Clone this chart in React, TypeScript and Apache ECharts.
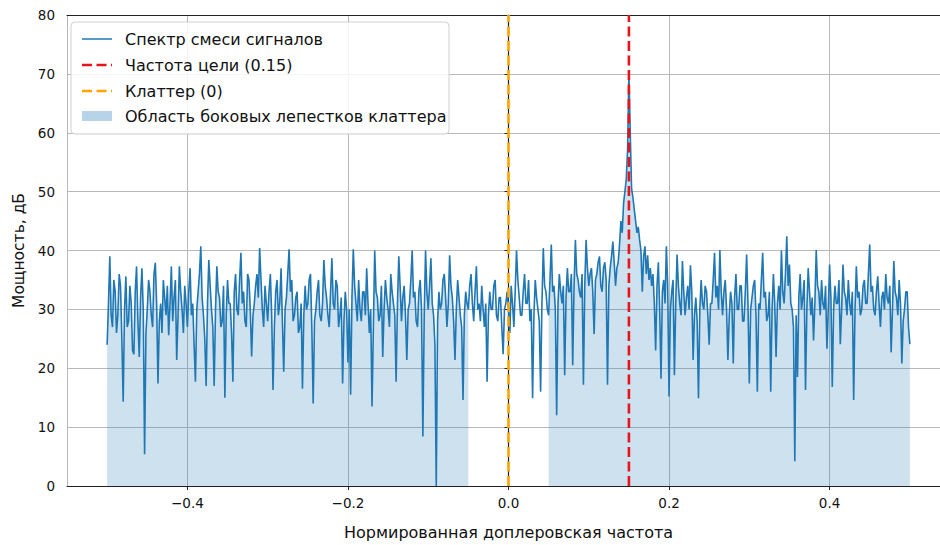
import React, { useEffect, useRef } from "react";
import * as echarts from "echarts";

// Spectrum power (dB), 601 bins from -0.5 to 0.5
const spectrumPart1 = [
  24, 31, 39, 29, 27, 35, 33, 26, 29, 36, 34, 25, 14.3, 30, 35.6, 27, 28, 34, 31, 23,
  22.4, 33, 37.3, 28, 21.9, 32, 37, 30, 5.4, 26, 30, 35, 33, 29, 27, 36, 37.9, 31, 17.4, 28,
  31, 26, 35, 32, 29, 34, 25.6, 31, 37.3, 28, 32, 35, 21.4, 29, 37.3, 33, 30, 26, 34, 31,
  27, 33, 37, 29, 31, 24, 17.7, 30, 33, 36, 40.7, 32, 29, 25, 17, 31, 38.4, 34, 30, 27,
  17, 30, 37.3, 33, 32, 27, 28, 34, 15, 29, 35, 31, 31, 26, 17.7, 33, 36, 30, 29, 35,
  39.6, 31, 33, 28, 27, 36, 35, 30, 22, 29, 31, 34, 36, 32, 40.4, 35, 30, 27, 34, 31,
  28, 33, 36, 29, 16.3, 27, 33, 35, 29, 31, 37, 28, 19.4, 30, 32, 36, 40.2, 33, 35, 28,
  29, 32, 33, 26, 27, 31, 16.5, 29, 34, 30, 31, 35, 36, 27, 14, 28, 30, 33, 35, 29,
];
const spectrumPart2 = [
  28, 31, 38.4, 34, 32, 29, 27, 33, 38.7, 31, 30, 35, 34, 27, 29, 32, 17.4, 28, 33, 30,
  21, 30, 15.5, 32, 40.2, 34, 31, 28, 35, 30, 28, 33, 33, 29, 37, 31, 26, 30, 13.5, 27,
  40, 33, 32, 28, 29, 34, 21.9, 30, 35, 32, 30, 27, 36, 33, 31, 29, 17.7, 31, 39, 34,
  28, 32, 34, 29, 21.4, 30, 31, 35, 40, 32, 33, 28, 27, 33, 35, 30, 8.4, 29, 40, 33,
  30, 34, 38.7, 31, 29, 24, 0, 28, 33, 30, 31, 35, 36, 32, 27, 31, 39.2, 34, 32, 28,
  21.4, 30, 35, 32, 29, 27, 14.6, 29, 33, 31, 30, 34, 36, 31, 28, 33, 37.3, 30, 31, 28,
  34, 30, 27, 31, 17.7, 29, 33, 30, 30, 34, 35, 29, 28, 32, 32, 27, 22.4, 30, 31, 33,
];
const spectrumPart3 = [
  30, 26, 34, 31, 27, 33, 40, 35, 32, 29, 29, 33, 36, 31, 31, 35, 28, 30, 14.9, 29,
  35, 32, 30, 28, 16, 31, 40.4, 34, 33, 30, 29, 35, 41, 33, 34, 30, 12, 31, 36, 33,
  31, 34, 18.8, 32, 37, 33, 33, 36, 20.5, 34, 41.8, 36, 35, 33, 32, 36, 17.2, 34, 41.8, 37,
  34, 36, 37, 33, 25.8, 35, 36, 38, 39, 34, 33, 37, 38, 35, 17.2, 34, 37, 39, 41.5, 38,
  34, 37, 38, 41, 45, 43, 48, 50, 52, 57, 70, 60, 50.5, 49, 47, 45, 43, 44, 41.8, 40,
  33, 39, 40.7, 36, 39.2, 35, 37, 34, 36, 31, 23, 34, 38, 30, 18.2, 33, 35, 31, 40.7, 34,
  15.2, 30, 33, 35, 18.8, 31, 39.3, 34, 31, 29, 38.2, 33, 29, 32, 34, 30, 37.5, 33, 21.4, 29,
  32, 28, 14.9, 30, 35, 31, 30, 34, 33, 29, 24, 31, 31, 35, 39.6, 32, 34, 30, 40.1, 33,
];
const spectrumPart4 = [
  29, 33, 35, 30, 21.4, 29, 33, 31, 20.8, 32, 36, 30, 30, 34, 34, 28, 28, 33, 39.3, 31,
  17.4, 30, 32, 34, 35, 29, 16, 31, 30, 35, 39.6, 32, 33, 28, 29, 33, 16, 30, 36, 31,
  21.9, 31, 34, 30, 40, 33, 31, 36, 42.4, 34, 37.6, 31, 30, 27, 4.2, 29, 18.5, 32, 36, 30,
  32, 35, 16.3, 30, 37, 33, 29, 32, 24.7, 31, 40.1, 34, 33, 29, 35, 31, 30, 34, 23.3, 30,
  37.6, 32, 16.8, 30, 34, 31, 31, 35, 24.1, 30, 37.6, 33, 32, 29, 35, 31, 29, 33, 14.6, 30,
  37.3, 32, 33, 29, 30, 34, 35, 31, 31, 36, 41, 33, 34, 30, 29, 33, 35.6, 31, 27, 32,
  33, 30, 36, 32, 31, 34, 22.7, 30, 38.2, 33, 32, 29, 35, 31, 20.8, 28, 30, 33, 33, 27,
  24.1,
];

const freqStart = -0.5;
const freqEnd = 0.5;
const targetFreq = 0.15;
const clutterFreq = 0;
const clutterHalfWidth = 0.05;
const yMin = 0;
const yMax = 80;

const legendLabels = [
  "Спектр смеси сигналов",
  "Частота цели (0.15)",
  "Клаттер (0)",
  "Область боковых лепестков клаттера",
];
const xAxisTitle = "Нормированная доплеровская частота";
const yAxisTitle = "Мощность, дБ";

const BLUE = "#1f77b4";
const RED = "#e8141c";
const ORANGE = "#ffa500";
const FILL = "rgba(31,119,180,0.32)";
const FONT = '"DejaVu Sans", "Noto Sans", sans-serif';

export default function App() {
  const ref = useRef<HTMLDivElement>(null);

  useEffect(() => {
    if (!ref.current) return;
    document.body.style.margin = "0";
    document.body.style.overflow = "hidden";
    document.documentElement.style.overflow = "hidden";
    const chart = echarts.init(ref.current, undefined, { renderer: "svg" });

    const values = [...spectrumPart1, ...spectrumPart2, ...spectrumPart3, ...spectrumPart4];
    const n = values.length;
    const step = (freqEnd - freqStart) / (n - 1);
    const freqs = values.map((_, i) => freqStart + i * step);
    const lineData = values.map((v, i) => [freqs[i], v]);
    const fillData = values.map((v, i) =>
      Math.abs(freqs[i] - clutterFreq) >= clutterHalfWidth - 1e-9 ? [freqs[i], v] : [freqs[i], null]
    );

    const fmt = (v: number) => {
      const s = v.toFixed(1);
      return s.startsWith("-") ? "\u2212" + s.slice(1) : s;
    };

    const legendX = 71;
    const legendY = 22;
    const rowY = [39, 65, 91, 116];
    const hx1 = 82;
    const hx2 = 112;
    const textX = 125;
    const legendFont = 16;

    const legendItems: any[] = [
      {
        type: "rect",
        shape: { x: legendX, y: legendY, width: 378, height: 112, r: 4 },
        style: { fill: "rgba(255,255,255,0.85)", stroke: "#d0d0d0", lineWidth: 1 },
        z: 100,
      },
      {
        type: "line",
        shape: { x1: hx1, y1: rowY[0], x2: hx2, y2: rowY[0] },
        style: { stroke: BLUE, lineWidth: 1.5 },
        z: 101,
      },
      {
        type: "line",
        shape: { x1: hx1, y1: rowY[1], x2: hx2, y2: rowY[1] },
        style: { stroke: RED, lineWidth: 2.6, lineDash: [10, 4.5] },
        z: 101,
      },
      {
        type: "line",
        shape: { x1: hx1, y1: rowY[2], x2: hx2, y2: rowY[2] },
        style: { stroke: ORANGE, lineWidth: 2.6, lineDash: [10, 4.5] },
        z: 101,
      },
      {
        type: "rect",
        shape: { x: hx1, y: rowY[3] - 5, width: hx2 - hx1, height: 10 },
        style: { fill: FILL },
        z: 101,
      },
      ...legendLabels.map((t, i) => ({
        type: "text",
        x: textX,
        y: rowY[i],
        style: {
          text: t,
          fill: "#111",
          fontSize: legendFont,
          fontFamily: FONT,
          verticalAlign: "middle",
          align: "left",
        },
        z: 101,
      })),
    ];

    chart.setOption({
      animation: false,
      backgroundColor: "#ffffff",
      grid: { left: 67, top: 15, width: 883, height: 475, containLabel: false },
      xAxis: [
        {
          type: "value",
          min: -0.55,
          max: 0.55,
          splitNumber: 5,
          name: xAxisTitle,
          nameLocation: "middle",
          nameGap: 38,
          nameTextStyle: { fontSize: 16, fontFamily: FONT, color: "#111" },
          axisLine: { show: true, lineStyle: { color: "#222", width: 1.2 } },
          axisTick: { show: true, length: 4, lineStyle: { color: "#222" } },
          axisLabel: {
            showMinLabel: false,
            showMaxLabel: false,
            margin: 10,
            fontSize: 13.5,
            fontFamily: FONT,
            color: "#111",
            formatter: (v: number) => fmt(v),
          },
          splitLine: { show: true, lineStyle: { color: "#b8b8b8", width: 1 } },
        },
        {
          type: "value",
          position: "top",
          min: -0.55,
          max: 0.55,
          axisLine: { show: true, lineStyle: { color: "#222", width: 1.2 } },
          axisTick: { show: false },
          axisLabel: { show: false },
          splitLine: { show: false },
        },
      ],
      yAxis: {
        type: "value",
        min: yMin,
        max: yMax,
        interval: 10,
        name: yAxisTitle,
        nameLocation: "middle",
        nameGap: 40,
        nameTextStyle: { fontSize: 15.5, fontFamily: FONT, color: "#111" },
        axisLine: { show: true, lineStyle: { color: "#222", width: 1.2 } },
        axisTick: { show: true, length: 4, lineStyle: { color: "#222" } },
        axisLabel: { margin: 12, fontSize: 13.5, fontFamily: FONT, color: "#111" },
        splitLine: { show: true, lineStyle: { color: "#b8b8b8", width: 1 } },
      },
      series: [
        {
          name: legendLabels[3],
          type: "line",
          data: fillData,
          showSymbol: false,
          symbol: "none",
          connectNulls: false,
          lineStyle: { width: 0 },
          areaStyle: { color: FILL, origin: "start" },
          silent: true,
          z: 2,
        },
        {
          name: legendLabels[0],
          type: "line",
          data: lineData,
          showSymbol: false,
          symbol: "none",
          lineStyle: { color: BLUE, width: 1.6 },
          silent: true,
          z: 3,
        },
        {
          name: legendLabels[1],
          type: "line",
          data: [
            [targetFreq, yMin],
            [targetFreq, yMax],
          ],
          showSymbol: false,
          symbol: "none",
          lineStyle: { color: RED, width: 2.6, type: [10, 4.5] },
          silent: true,
          z: 4,
        },
        {
          name: legendLabels[2],
          type: "line",
          data: [
            [clutterFreq, yMin],
            [clutterFreq, yMax],
          ],
          showSymbol: false,
          symbol: "none",
          lineStyle: { color: ORANGE, width: 2.6, type: [10, 4.5] },
          silent: true,
          z: 4,
        },
      ],
      graphic: legendItems,
    });

    return () => chart.dispose();
  }, []);

  return (
    <div style={{ width: 940, height: 545, overflow: "hidden", position: "relative" }}>
      <div ref={ref} style={{ width: 970, height: 545 }} />
    </div>
  );
}
